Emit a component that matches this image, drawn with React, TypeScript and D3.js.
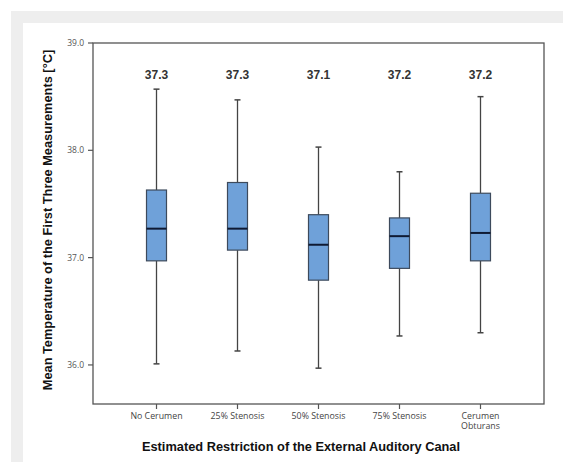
import React from "react";
import * as d3 from "d3";

const categories = ["No Cerumen", "25% Stenosis", "50% Stenosis", "75% Stenosis", "Cerumen Obturans"];
const categoryLines = [["No Cerumen"], ["25% Stenosis"], ["50% Stenosis"], ["75% Stenosis"], ["Cerumen", "Obturans"]];
const whiskerLow = [36.01, 36.13, 35.97, 36.27, 36.3];
const q1 = [36.97, 37.07, 36.79, 36.9, 36.97];
const medians = [37.27, 37.27, 37.12, 37.2, 37.23];
const q3 = [37.63, 37.7, 37.4, 37.37, 37.6];
const whiskerHigh = [38.57, 38.47, 38.03, 37.8, 38.5];
const meanLabels = ["37.3", "37.3", "37.1", "37.2", "37.2"];
const yTicks = [36.0, 37.0, 38.0, 39.0];

const W = 563;
const H = 462;
const left = 93, right = 544, top = 43, bottom = 404;

export default function App() {
  const y = d3.scaleLinear().domain([35.636, 39.0]).range([bottom, top]);
  const x = d3.scalePoint<string>().domain(categories).range([left, right]).padding(0.784);
  const boxW = 20;
  const capW = 6;
  const tickFont = "'Open Sans', 'DejaVu Sans', sans-serif";
  const boldFont = "'Liberation Sans', Arial, sans-serif";

  return (
    <svg width={W} height={H} style={{ position: "absolute", left: 0, top: 0 }}>
      <rect x={0} y={0} width={W} height={H} fill="#ffffff" />
      <rect x={11} y={11} width={W - 11} height={H - 11} fill="#eeeeee" />
      <rect x={23} y={23} width={W - 23} height={H - 23} fill="#ffffff" />
      {/* frame */}
      <rect x={left} y={top} width={right - left} height={bottom - top} fill="none" stroke="#555" strokeWidth={1.3} />
      {/* y ticks */}
      {yTicks.map((t) => (
        <g key={t}>
          <line x1={left - 5} x2={left} y1={y(t)} y2={y(t)} stroke="#555" strokeWidth={1.2} />
          <text x={left - 9} y={y(t)} dy="0.35em" textAnchor="end" fontSize={8.5} fill="#555" fontFamily={tickFont}>
            {d3.format(".1f")(t)}
          </text>
        </g>
      ))}
      {/* x ticks and labels */}
      {categories.map((c, i) => (
        <g key={c}>
          <line x1={x(c)} x2={x(c)} y1={bottom} y2={bottom + 5} stroke="#555" strokeWidth={1.2} />
          {categoryLines[i].map((ln, j) => (
            <text key={j} x={x(c)} y={418.5 + j * 10.5} textAnchor="middle" fontSize={8.8} fill="#444" fontFamily={tickFont}>
              {ln}
            </text>
          ))}
        </g>
      ))}
      {/* boxes */}
      {categories.map((c, i) => {
        const cx = x(c) as number;
        return (
          <g key={c}>
            <line x1={cx} x2={cx} y1={y(whiskerHigh[i])} y2={y(q3[i])} stroke="#444" strokeWidth={1.3} />
            <line x1={cx} x2={cx} y1={y(q1[i])} y2={y(whiskerLow[i])} stroke="#444" strokeWidth={1.3} />
            <line x1={cx - capW / 2} x2={cx + capW / 2} y1={y(whiskerHigh[i])} y2={y(whiskerHigh[i])} stroke="#444" strokeWidth={1.5} />
            <line x1={cx - capW / 2} x2={cx + capW / 2} y1={y(whiskerLow[i])} y2={y(whiskerLow[i])} stroke="#444" strokeWidth={1.5} />
            <rect x={cx - boxW / 2} y={y(q3[i])} width={boxW} height={y(q1[i]) - y(q3[i])} fill="#6fa1d9" stroke="#3d4a5c" strokeWidth={1.2} />
            <line x1={cx - boxW / 2} x2={cx + boxW / 2} y1={y(medians[i])} y2={y(medians[i])} stroke="#0f1a33" strokeWidth={2} />
            <text x={cx} y={79} textAnchor="middle" fontSize={12} fontWeight="bold" fill="#333" fontFamily={boldFont}>
              {meanLabels[i]}
            </text>
          </g>
        );
      })}
      {/* axis titles */}
      <text
        transform={`translate(52, ${(48 + 392) / 2}) rotate(-90)`}
        textAnchor="middle"
        fontSize={12.8}
        fontWeight="bold"
        fill="#111"
        fontFamily={boldFont}
      >
        Mean Temperature of the First Three Measurements [°C]
      </text>
      <text x={301} y={451} textAnchor="middle" fontSize={12.8} fontWeight="bold" fill="#111" fontFamily={boldFont}>
        Estimated Restriction of the External Auditory Canal
      </text>
    </svg>
  );
}
